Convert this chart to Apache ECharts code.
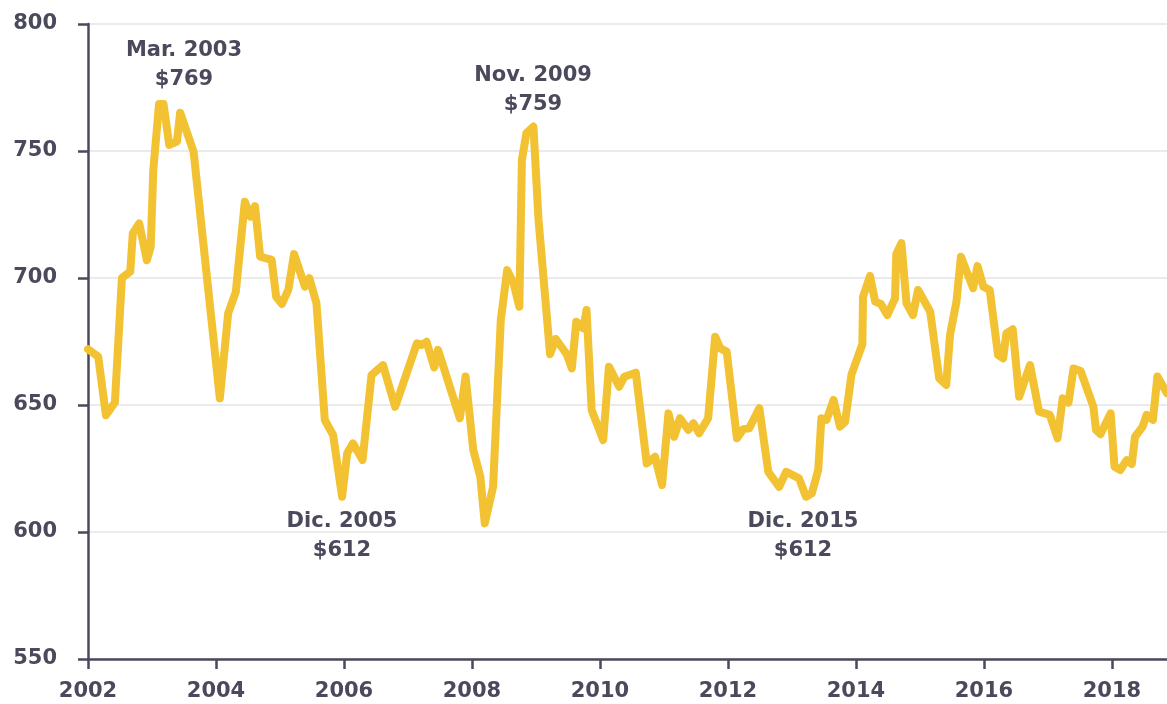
<!DOCTYPE html>
<html>
<head>
<meta charset="utf-8">
<script src="https://cdn.jsdelivr.net/npm/echarts@6/dist/echarts.min.js"></script>
<style>
  html, body { margin: 0; padding: 0; background: #fff; }
  #chart { width: 1167px; height: 704px; }
</style>
</head>
<body>
<div id="chart"></div>
<script>
// fecha (año decimal) y precio
var fechas = [
  2002.00, 2002.16, 2002.28, 2002.42, 2002.53, 2002.66, 2002.70, 2002.80, 2002.92, 2002.98,
  2003.02, 2003.11, 2003.18, 2003.27, 2003.39, 2003.44, 2003.65, 2004.06, 2004.19, 2004.31,
  2004.38, 2004.45, 2004.54, 2004.61, 2004.69, 2004.87, 2004.94, 2005.03, 2005.13, 2005.22,
  2005.39, 2005.46, 2005.57, 2005.70, 2005.83, 2005.97, 2006.05, 2006.14, 2006.29, 2006.43,
  2006.61, 2006.80, 2007.14, 2007.21, 2007.29, 2007.41, 2007.47, 2007.81, 2007.90, 2008.02,
  2008.13, 2008.20, 2008.33, 2008.45, 2008.55, 2008.65, 2008.74, 2008.78, 2008.85, 2008.96,
  2009.04, 2009.22, 2009.31, 2009.48, 2009.56, 2009.63, 2009.74, 2009.79, 2009.87, 2010.05,
  2010.14, 2010.30, 2010.38, 2010.56, 2010.73, 2010.86, 2010.97, 2011.07, 2011.16, 2011.25,
  2011.38, 2011.46, 2011.55, 2011.69, 2011.80, 2011.88, 2011.98, 2012.14, 2012.24, 2012.33,
  2012.49, 2012.63, 2012.80, 2012.91, 2013.11, 2013.22, 2013.31, 2013.41, 2013.46, 2013.54,
  2013.65, 2013.75, 2013.83, 2013.93, 2014.10, 2014.11, 2014.22, 2014.30, 2014.39, 2014.49,
  2014.61, 2014.63, 2014.71, 2014.79, 2014.89, 2014.97, 2015.16, 2015.30, 2015.41, 2015.47,
  2015.57, 2015.64, 2015.83, 2015.90, 2015.99, 2016.09, 2016.22, 2016.30, 2016.35, 2016.45,
  2016.55, 2016.72, 2016.86, 2017.03, 2017.15, 2017.23, 2017.32, 2017.40, 2017.51, 2017.71,
  2017.75, 2017.82, 2017.98, 2018.04, 2018.13, 2018.23, 2018.31, 2018.36, 2018.48, 2018.54,
  2018.64, 2018.71, 2018.86
];
var precios = [
  672, 669, 646, 651, 700, 702.5, 717.6, 721.5, 707, 712.3,
  742.5, 768.5, 768.5, 752.4, 753.7, 765.1, 749.7, 652.6, 686.1, 694.6,
  712.3, 730, 724.1, 728.3, 708.4, 707.1, 692.6, 689.8, 695.3, 709.4,
  696.6, 699.9, 690, 644.1, 638.2, 613.9, 631, 634.9, 628.3, 661.8,
  665.7, 649.3, 674.3, 673.6, 674.9, 664.8, 671.7, 644.8, 661.2, 632.3,
  621.8, 603.4, 617.8, 683.5, 703.1, 697.9, 688.7, 746.5, 757, 759.6,
  722.8, 670, 676, 670, 664.4, 682.8, 680.2, 687.4, 648, 636.2,
  665.1, 657.2, 661.1, 662.7, 627, 629.6, 618.5, 646.7, 637.5, 644.8,
  640.2, 642.8, 638.9, 644.8, 676.9, 672.3, 671, 636.9, 640.5, 640.8,
  648.7, 623.7, 617.8, 623.7, 621.1, 613.9, 615.2, 624.4, 644.8, 644.1,
  652, 641.5, 643.4, 662, 674, 692.6, 700.8, 690.7, 689.8, 685.4,
  692, 709.4, 713.7, 690, 685.4, 695.3, 686.7, 660.5, 657.9, 677.6,
  690.7, 708.4, 696, 704.7, 696.6, 695.3, 669.7, 668.4, 678.2, 679.8,
  653.3, 665.7, 647.4, 646.1, 636.9, 652.6, 650.9, 664.4, 663.4, 649.3,
  640.2, 638.5, 646.7, 625.7, 624.4, 628.3, 626.8, 637.5, 641.5, 646.1,
  644.1, 661.2, 654.6
];
var anotaciones = ['Mar. 2003\n$769', 'Nov. 2009\n$759', 'Dic. 2005\n$612', 'Dic. 2015\n$612'];

var datos = fechas.map(function (f, i) { return [f, precios[i]]; });

var gris = '#4a4a5c';
var fuente = '"DejaVu Sans", sans-serif';

function nota(texto, x, y) {
  return {
    type: 'text', x: x, y: y,
    style: {
      text: texto, align: 'center', verticalAlign: 'middle',
      font: 'bold 21px ' + fuente, fill: gris, lineHeight: 29
    }
  };
}

var chart = echarts.init(document.getElementById('chart'));
chart.setOption({
  animation: false,
  grid: { left: 88, right: 0, top: 24, bottom: 45 },
  xAxis: {
    type: 'value', min: 2002, max: 2018.86, interval: 2,
    axisLine: { lineStyle: { color: gris, width: 2.5 } },
    axisTick: { show: true, length: 10, lineStyle: { color: gris, width: 2.5 } },
    axisLabel: {
      color: gris, fontSize: 21, fontWeight: 'bold', fontFamily: fuente, margin: 22,
      formatter: function (v) { return String(v); }
    },
    splitLine: { show: false }
  },
  yAxis: {
    type: 'value', min: 550, max: 800, interval: 50,
    axisLine: { show: true, lineStyle: { color: gris, width: 2.5 } },
    axisTick: { show: true, length: 10, lineStyle: { color: gris, width: 2.5 } },
    axisLabel: { color: gris, fontSize: 21, fontWeight: 'bold', fontFamily: fuente, margin: 31 },
    splitLine: { lineStyle: { color: '#ebebeb', width: 2 } }
  },
  series: [{
    type: 'line', data: datos, symbol: 'none', clip: true,
    lineStyle: { color: '#f2c232', width: 8, cap: 'round', join: 'round' }
  }],
  graphic: [
    nota(anotaciones[0], 184, 65),
    nota(anotaciones[1], 533, 90),
    nota(anotaciones[2], 342, 536),
    nota(anotaciones[3], 803, 536)
  ]
});
</script>
</body>
</html>
